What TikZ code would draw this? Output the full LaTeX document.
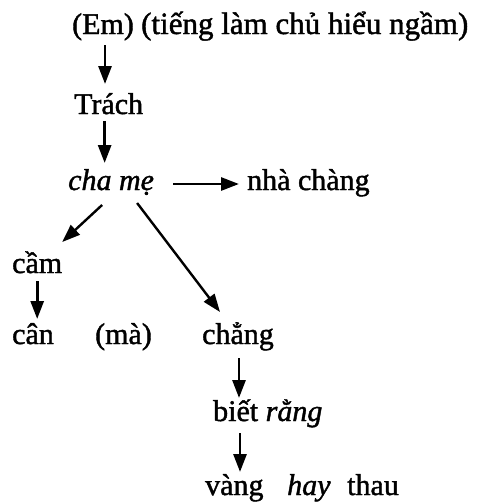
\documentclass[tikz,border=0pt]{standalone}
\usepackage{fontspec}
\setmainfont{Liberation Serif}[
  UprightFeatures={FakeBold=1.4},
  ItalicFeatures={FakeBold=1.4}]
\usetikzlibrary{arrows.meta,calc}

\tikzset{
  word/.style={anchor=base west, inner sep=0pt, font=\fontsize{30}{36}\selectfont},
  arr/.style={line width=2.8pt, -{Triangle[length=18pt,width=13pt]}},
  slant/.style={line width=2.4pt, -{Triangle[length=18pt,width=13pt]}}
}

\begin{document}
\begin{tikzpicture}[x=1pt,y=-1pt]
  \useasboundingbox (0,0) rectangle (484,504);

  % words of the sentence
  \node[word] (em)    at (72,34)   {(Em)};
  \node[word, font=\fontsize{31}{36}\selectfont] (hint) at (141,34) {(tiếng làm chủ hiểu ngầm)};
  \node[word] (trach) at (74,114)  {Trách};
  \node[word] (chame) at (68,190)  {\itshape cha mẹ};
  \node[word] (nha)   at (247,190) {nhà chàng};
  \node[word] (cam)   at (12,273)  {cầm};
  \node[word] (can)   at (12,344)  {cân};
  \node[word] (ma)    at (95,344)  {(mà)};
  \node[word] (chang) at (202,344) {chẳng};
  \node[word] (biet)  at (213,421) {biết \textit{rằng}};
  \node[word] (vang)  at (205,495) {vàng};
  \node[word] (hay)   at (287,495) {\itshape hay};
  \node[word] (thau)  at (347,495) {thau};

  % dependency arrows
  \draw[arr] ($(em.base)+(2,11)$) -- ($(em.base |- trach.base)+(2,-30)$);
  \draw[arr] ($(trach.base)+(-4,7)$) -- ($(trach.base |- chame.base)+(-4,-27)$);
  \draw[arr] ($(chame.base east)+(19,-6)$) -- ($(nha.base west)+(-8,-6)$);
  \draw[slant] ($(chame.base)+(-9,15)$) -- ($(cam.base)+(25,-31)$);
  \draw[slant] ($(chame.base)+(26,13)$) -- ($(chang.base)+(-18,-32)$);
  \draw[arr] ($(cam.base)+(0,8)$) -- ($(cam.base |- can.base)+(0,-25)$);
  \draw[arr] ($(chang.base)+(1,14)$) -- ($(chang.base |- biet.base)+(1,-23)$);
  \draw[arr] ($(chang.base |- biet.base)+(2,12)$) -- ($(chang.base |- vang.base)+(2,-23)$);
\end{tikzpicture}
\end{document}
